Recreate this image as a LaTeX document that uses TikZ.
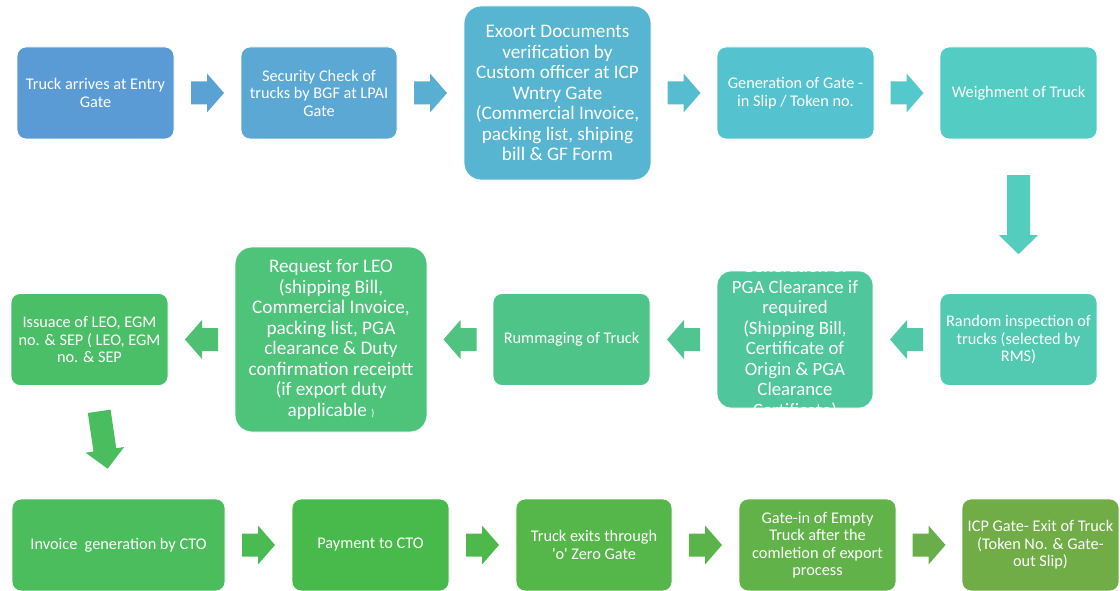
\documentclass[tikz,border=0pt]{standalone}
\usepackage{fontspec}
\newfontfamily\carl{Carlito}[Ligatures=TeXOff]
\usetikzlibrary{calc}

% step colours, blue to green
\definecolor{n1}{HTML}{5B9BD5}
\definecolor{n2}{HTML}{5AA8D3}
\definecolor{n3}{HTML}{57B5D1}
\definecolor{n4}{HTML}{55C3CF}
\definecolor{n5}{HTML}{53CDC4}
\definecolor{a1}{HTML}{5AA1D4}
\definecolor{a2}{HTML}{59AFD2}
\definecolor{a3}{HTML}{56BCD0}
\definecolor{a4}{HTML}{54C8CB}
\definecolor{a5}{HTML}{53CDBE}
\definecolor{m1}{HTML}{52CAB2}
\definecolor{b1}{HTML}{51C8A7}
\definecolor{m2}{HTML}{50C69C}
\definecolor{b2}{HTML}{50C592}
\definecolor{m3}{HTML}{4FC488}
\definecolor{b3}{HTML}{4FC37F}
\definecolor{m4}{HTML}{4EC37A}
\definecolor{b4}{HTML}{4DC071}
\definecolor{m5}{HTML}{4BBF68}
\definecolor{b5}{HTML}{4ABD5E}
\definecolor{l1}{HTML}{4BBD5D}
\definecolor{c1}{HTML}{49BB52}
\definecolor{l2}{HTML}{48BA4B}
\definecolor{c2}{HTML}{4FB84A}
\definecolor{l3}{HTML}{55B64A}
\definecolor{c3}{HTML}{5BB44A}
\definecolor{l4}{HTML}{62B24A}
\definecolor{c4}{HTML}{69AF49}
\definecolor{l5}{HTML}{70AD47}

\tikzset{
  stepbox/.style={draw=white, line width=0.8pt, rounded corners=9pt,
    inner sep=0pt, minimum width=157pt, minimum height=92pt,
    text=white, align=center, font=\carl\fontsize{16.3}{17.5}\selectfont},
  bigbox/.style={stepbox, rounded corners=17pt,
    font=\carl\fontsize{19.2}{20.5}\selectfont},
  pics/barrow/.style 2 args={code={
    \fill[pic actions] ({-#1/2},-11.5) -- ({#1/2-#2},-11.5) -- ({#1/2-#2},-19.5)
      -- ({#1/2},0) -- ({#1/2-#2},19.5) -- ({#1/2-#2},11.5) -- ({-#1/2},11.5) -- cycle;
  }}
}

\begin{document}
\begin{tikzpicture}[x=1pt,y=-1pt]
\useasboundingbox (0,0) rectangle (1120,591);

% ---- first row ----
\node[stepbox, fill=n1] (s1) at (95.5,93) {Truck arrives at Entry\\Gate};
\node[stepbox, fill=n2, minimum width=156pt] (s2) at (319,93)
  {Security Check of\\trucks by BGF at LPAI\\Gate};
\node[bigbox, fill=n3, minimum width=187pt, minimum height=174pt] (s3) at (557.5,93)
  {Exoort Documents\\verification by\\Custom officer at ICP\\Wntry Gate\\(Commercial Invoice,\\packing list, shiping\\bill \& GF Form};
\node[stepbox, fill=n4] (s4) at (795.5,93) {Generation of Gate -\\in Slip / Token no.};
\node[stepbox, fill=n5] (s5) at (1018.5,93) {Weighment of Truck};

% ---- second row ----
\node[stepbox, fill=m1] (s6) at (1018.5,339.5) {Random inspection of\\trucks (selected by\\RMS)};
\node[stepbox, fill=m2, minimum width=156pt, minimum height=137pt,
  rounded corners=14pt] (s7) at (795,339.5) {};
\begin{scope}
  \clip[rounded corners=14pt] (s7.south west) rectangle (s7.north east);
  \node[text=white, align=center, font=\carl\fontsize{18.8}{20.5}\selectfont,
    inner sep=0pt] (s7t) at (s7.center)
    {Generation of\\PGA Clearance if\\required\\(Shipping Bill,\\Certificate of\\Origin \& PGA\\Clearance\\Certificate)};
\end{scope}
\node[stepbox, fill=m3] (s8) at (571.5,339.5) {Rummaging of Truck};
\node[bigbox, fill=m4, minimum width=192pt, minimum height=185pt] (s9) at (331,339.5)
  {Request for LEO\\(shipping Bill,\\Commercial Invoice,\\packing list, PGA\\clearance \& Duty\\confirmation receiptt\\(if export duty\\applicable {\fontsize{10}{10}\selectfont)}};
\node[stepbox, fill=m5] (s10) at (89.5,339.5)
  {Issuace of LEO, EGM\\no. \& SEP ( LEO, EGM\\no. \& SEP};

% ---- third row ----
\node[stepbox, fill=l1, minimum width=213pt] (s11) at (118.5,545) {Invoice~ generation by CTO};
\node[stepbox, fill=l2] (s12) at (370.5,545) {Payment to CTO};
\node[stepbox, fill=l3, minimum width=156pt] (s13) at (594,545) {Truck exits through\\'o' Zero Gate};
\node[stepbox, fill=l4] (s14) at (817.5,545)
  {Gate-in of Empty\\Truck after the\\comletion of export\\process};
\node[stepbox, fill=l5] (s15) at (1040.5,545)
  {ICP Gate- Exit of Truck\\(Token No. \& Gate-\\out Slip)};

% ---- block arrows between steps ----
\pic[fill=a1] at ($(s1.east)!.5!(s2.west)$) {barrow={33}{17}};
\pic[fill=a2] at ($(s2.east)!.5!(s3.west)$) {barrow={33}{17}};
\pic[fill=a3] at ($(s3.east)!.5!(s4.west)$) {barrow={33}{17}};
\pic[fill=a4] at ($(s4.east)!.5!(s5.west)$) {barrow={33}{17}};
\pic[fill=a5, rotate=-90] at ($(s5.south)!.49!(s6.north)$) {barrow={79}{19}};
\pic[fill=b1, rotate=180] at ($(s6.west)!.5!(s7.east)$) {barrow={33}{17}};
\pic[fill=b2, rotate=180] at ($(s7.west)!.5!(s8.east)$) {barrow={33}{17}};
\pic[fill=b3, rotate=180] at ($(s8.west)!.5!(s9.east)$) {barrow={33}{17}};
\pic[fill=b4, rotate=180] at ($(s9.west)!.5!(s10.east)$) {barrow={33}{17}};
\pic[fill=b5, rotate=-81.6] at ($(s10.south)!.48!(s11.north)$) {barrow={58}{19}};
\pic[fill=c1] at ($(s11.east)!.5!(s12.west)$) {barrow={33}{17}};
\pic[fill=c2] at ($(s12.east)!.5!(s13.west)$) {barrow={33}{17}};
\pic[fill=c3] at ($(s13.east)!.5!(s14.west)$) {barrow={33}{17}};
\pic[fill=c4] at ($(s14.east)!.5!(s15.west)$) {barrow={33}{17}};
\end{tikzpicture}
\end{document}
